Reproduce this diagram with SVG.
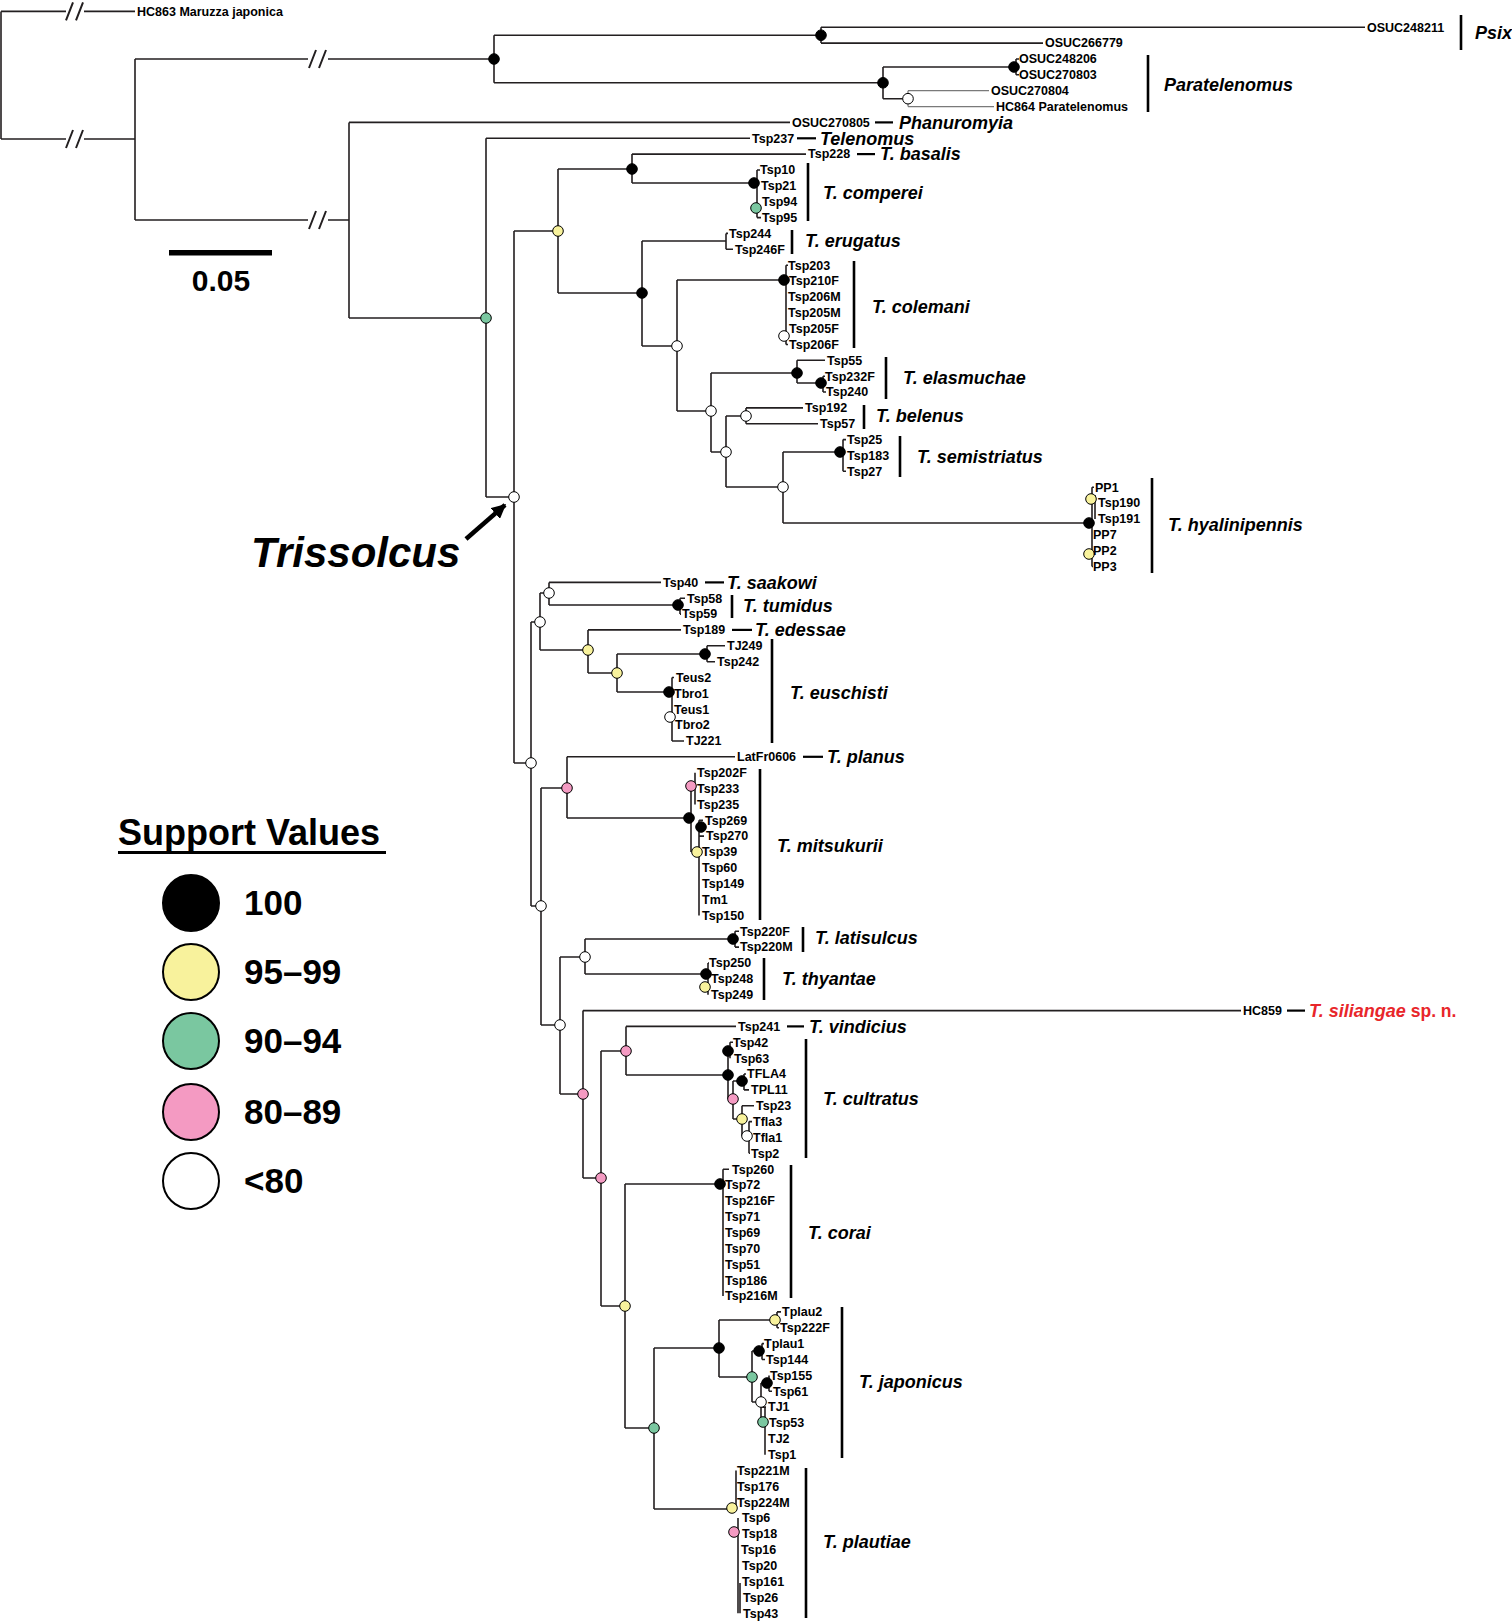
<svg xmlns="http://www.w3.org/2000/svg" width="1512" height="1622" viewBox="0 0 1512 1622">
<defs>
<style>
.e{fill:none;stroke:#231f20;stroke-width:1.6}
.g{fill:none;stroke:#7a7a7a;stroke-width:1.3}
.br{fill:none;stroke:#231f20;stroke-width:2}
.d{stroke:#000;stroke-width:2.2}
.bar{stroke:#000;stroke-width:2.6}
.t{font-family:"Liberation Sans",Arial,sans-serif;font-weight:bold;font-size:12.5px;fill:#000}
.sp{font-family:"Liberation Sans",Arial,sans-serif;font-weight:bold;font-style:italic;font-size:18px;fill:#000}
.k{fill:#000;stroke:#000;stroke-width:1}
.y{fill:#f8f29c;stroke:#000;stroke-width:1}
.gr{fill:#7ac7a0;stroke:#000;stroke-width:1}
.p{fill:#f49ac2;stroke:#000;stroke-width:1}
.w{fill:#fff;stroke:#000;stroke-width:1}
.lg{font-family:"Liberation Sans",Arial,sans-serif;font-weight:bold;font-size:35px;fill:#000}
</style>
<marker id="ah" viewBox="0 0 10 10" refX="9" refY="5" markerWidth="3.2" markerHeight="3.2" orient="auto"><path d="M0 0L10 5L0 10z" fill="#000"/></marker>
</defs>
<rect width="1512" height="1622" fill="#fff"/>

<g id="connectors">
<path class="e" d="M1 11.4V139M1 11.4H66M84 11.4H135M1 139H66M84 139H135"/>
<path class="e" d="M135 59V220M135 59H308M328 59H494M135 220H308M328 220H349"/>
<path class="br" d="M66 20.4L73 2.4M76 20.4L83 2.4M66 148L73 130M76 148L83 130M309 68L316 50M319 68L326 50M309 229L316 211M319 229L326 211"/>
<path class="e" d="M494 35.2V82.8M494 35.2H821M494 82.8H883"/>
<path class="e" d="M821 27.3V43.1M821 27.3H1365M821 43.1H1043"/>
<path class="e" d="M883 67V98.7M883 67H1014M883 98.7H908"/>
<path class="e" d="M1016 59V74.8M1016 59H1019M1016 74.8H1019"/>
<path class="g" d="M908 90.7V106.6M908 90.7H989M908 106.6H994"/>
<path class="e" d="M349 122.4V318M349 122.4H790M349 318H486"/>
<path class="e" d="M486 138.3V497M486 138.3H750M486 497H514"/>
<path class="e" d="M514 231V763M514 231H558M514 763H531"/>
<path class="e" d="M558 169V293M558 169H632M558 293H642"/>
<path class="e" d="M632 154.1V183M632 154.1H806M632 183H754"/>
<path class="e" d="M757 170V217.6M757 170H760M757 217.6H761"/>
<path class="e" d="M642 241V346M642 241H726M642 346H677"/>
<path class="e" d="M726 233.4V249.3M726 233.4H728M726 249.3H733"/>
<path class="e" d="M677 280V411M677 280H784M677 411H711"/>
<path class="e" d="M786 265.2V344.5M786 265.2H788M786 344.5H788"/>
<path class="e" d="M711 373V452M711 373H797M711 452H726"/>
<path class="e" d="M797 360.3V383M797 360.3H825M797 383H821"/>
<path class="e" d="M823 376.2V392M823 376.2H825M823 392H826"/>
<path class="e" d="M726 416V487M726 416H746M726 487H783"/>
<path class="e" d="M746 407.9V423.8M746 407.9H803M746 423.8H818"/>
<path class="e" d="M783 452V523M783 452H840M783 523H1089"/>
<path class="e" d="M843 439.6V471.3M843 439.6H846M843 471.3H846"/>
<path class="e" d="M1092 487.2V566.5M1092 487.2H1094M1092 566.5H1093M1095 495V519"/>
<path class="e" d="M531 622V906M531 622H540M531 906H541"/>
<path class="e" d="M540 593V650M540 593H549M540 650H588"/>
<path class="e" d="M549 582.4V605M549 582.4H661M549 605H678"/>
<path class="e" d="M680 598.2V614.1M680 598.2H685M680 614.1H681"/>
<path class="e" d="M588 629.9V673M588 629.9H681M588 673H617"/>
<path class="e" d="M617 654V692M617 654H705M617 692H669"/>
<path class="e" d="M707 645.8V661.7M707 645.8H725M707 661.7H715"/>
<path class="e" d="M672 677.5V741M672 677.5H674M672 741H684"/>
<path class="e" d="M541 788V1025M541 788H567M541 1025H560"/>
<path class="e" d="M567 756.8V818M567 756.8H735M567 818H689"/>
<path class="e" d="M695 772.7V804.4M691 786V852M699 820.3V915.4M699 820.3H703M699 836.1H704"/>
<path class="e" d="M560 957V1094M560 957H585M560 1094H583"/>
<path class="e" d="M585 939V974M585 939H733M585 974H706"/>
<path class="e" d="M735 931.3V947.1M735 931.3H739M735 947.1H739"/>
<path class="e" d="M708 963V994.7M708 963H709"/>
<path class="e" d="M583 1010.6V1178M583 1010.6H1241M583 1178H601"/>
<path class="e" d="M601 1051V1306M601 1051H626M601 1306H625"/>
<path class="e" d="M626 1026.4V1075M626 1026.4H736M626 1075H728"/>
<path class="e" d="M730 1042.3V1058.2M730 1042.3H733M728 1051V1099M728 1099H733"/>
<path class="e" d="M733 1081V1119M733 1081H742M733 1119H742"/>
<path class="e" d="M744 1074V1089.9M744 1074H746M744 1089.9H749"/>
<path class="e" d="M742 1105.7V1136M742 1105.7H754M742 1136H747"/>
<path class="e" d="M749 1121.6V1153.3M749 1121.6H752M749 1153.3H750"/>
<path class="e" d="M625 1184V1428M625 1184H720M625 1428H654"/>
<path class="e" d="M723 1169.2V1296.1M723 1169.2H729"/>
<path class="e" d="M654 1348V1509M654 1348H719M654 1509H732"/>
<path class="e" d="M719 1320V1377M719 1320H775M719 1377H752"/>
<path class="e" d="M777 1311.9V1327.8M777 1311.9H781M777 1327.8H779"/>
<path class="e" d="M752 1351V1402M752 1351H759M752 1402H761"/>
<path class="e" d="M762 1343.6V1359.5M762 1343.6H764M762 1359.5H765"/>
<path class="e" d="M761 1383V1422M761 1383H767M761 1422H763M761 1407.1H766"/>
<path class="e" d="M769 1375.4V1391.2M769 1391.2H772"/>
<path class="e" d="M765 1407V1454.7"/>
<path class="e" d="M736 1470.5V1510M738 1518V1613.3M740 1583V1613.3M734 1532H738"/>
</g>

<g id="outgroup-maruzza"><text class="t" x="137" y="15.7">HC863 Maruzza japonica</text></g>

<g id="clade-psix">
<circle class="k" cx="494" cy="59" r="5.3"/><circle class="k" cx="821" cy="35.2" r="5.3"/>
<text class="t" x="1367" y="31.6">OSUC248211</text><text class="t" x="1045" y="47.4">OSUC266779</text>
<line class="bar" x1="1461" y1="15" x2="1461" y2="50"/>
<text class="sp" x="1475" y="39">Psix</text>
</g>

<g id="clade-paratelenomus">
<circle class="k" cx="883" cy="82.8" r="5.3"/><circle class="k" cx="1014" cy="67" r="5.3"/><circle class="w" cx="908" cy="98.7" r="5.3"/>
<text class="t" x="1019" y="63.3">OSUC248206</text><text class="t" x="1019" y="79.1">OSUC270803</text>
<text class="t" x="991" y="95">OSUC270804</text><text class="t" x="996" y="110.9">HC864 Paratelenomus</text>
<line class="bar" x1="1148" y1="55" x2="1148" y2="112"/>
<text class="sp" x="1164" y="91">Paratelenomus</text>
</g>

<g id="clade-phanuromyia">
<text class="t" x="792" y="126.7">OSUC270805</text><line class="d" x1="875" y1="122.4" x2="893" y2="122.4"/>
<text class="sp" x="899" y="128.5">Phanuromyia</text>
</g>

<g id="clade-telenomus">
<circle class="gr" cx="486" cy="318" r="5.3"/>
<text class="t" x="752" y="142.6">Tsp237</text><line class="d" x1="797" y1="138.3" x2="816" y2="138.3"/>
<text class="sp" x="820" y="144.5">Telenomus</text>
</g>

<g id="node-trissolcus-root">
<circle class="w" cx="514" cy="497" r="5.3"/>
<circle class="y" cx="558" cy="231" r="5.3"/>
<circle class="k" cx="632" cy="169" r="5.3"/>
<circle class="k" cx="642" cy="293" r="5.3"/>
<circle class="w" cx="677" cy="346" r="5.3"/>
<circle class="w" cx="711" cy="411" r="5.3"/>
<circle class="w" cx="726" cy="452" r="5.3"/>
<circle class="w" cx="783" cy="487" r="5.3"/>
<circle class="w" cx="531" cy="763" r="5.3"/>
<circle class="w" cx="540" cy="622" r="5.3"/>
<circle class="y" cx="588" cy="650" r="5.3"/>
<circle class="y" cx="617" cy="673" r="5.3"/>
<circle class="w" cx="541" cy="906" r="5.3"/>
<circle class="p" cx="567" cy="788" r="5.3"/>
<circle class="w" cx="560" cy="1025" r="5.3"/>
<circle class="w" cx="585" cy="957" r="5.3"/>
<circle class="p" cx="583" cy="1094" r="5.3"/>
<circle class="p" cx="601" cy="1178" r="5.3"/>
<circle class="p" cx="626" cy="1051" r="5.3"/>
<circle class="y" cx="625" cy="1306" r="5.3"/>
<circle class="gr" cx="654" cy="1428" r="5.3"/>
</g>

<g id="clade-basalis">
<text class="t" x="808" y="158.4">Tsp228</text><line class="d" x1="857" y1="154.1" x2="875" y2="154.1"/>
<text class="sp" x="880" y="160">T. basalis</text>
</g>

<g id="clade-comperei">
<circle class="k" cx="754" cy="183" r="5.3"/><circle class="gr" cx="756" cy="208" r="5.3"/>
<text class="t" x="760" y="174.3">Tsp10</text><text class="t" x="761" y="190.2">Tsp21</text><text class="t" x="762" y="206">Tsp94</text><text class="t" x="762" y="221.9">Tsp95</text>
<line class="bar" x1="808" y1="163" x2="808" y2="221"/>
<text class="sp" x="823" y="199">T. comperei</text>
</g>

<g id="clade-erugatus">
<text class="t" x="729" y="237.7">Tsp244</text><text class="t" x="735" y="253.6">Tsp246F</text>
<line class="bar" x1="792" y1="230" x2="792" y2="254"/>
<text class="sp" x="805" y="247">T. erugatus</text>
</g>

<g id="clade-colemani">
<circle class="k" cx="784" cy="280" r="5.3"/><circle class="w" cx="784" cy="336" r="5.3"/>
<text class="t" x="788" y="269.5">Tsp203</text><text class="t" x="789" y="285.3">Tsp210F</text><text class="t" x="788" y="301.2">Tsp206M</text>
<text class="t" x="788" y="317">Tsp205M</text><text class="t" x="789" y="332.9">Tsp205F</text><text class="t" x="789" y="348.8">Tsp206F</text>
<line class="bar" x1="854" y1="261" x2="854" y2="348"/>
<text class="sp" x="872" y="313">T. colemani</text>
</g>

<g id="clade-elasmuchae">
<circle class="k" cx="797" cy="373" r="5.3"/><circle class="k" cx="821" cy="383" r="5.3"/>
<text class="t" x="827" y="364.6">Tsp55</text><text class="t" x="825" y="380.5">Tsp232F</text><text class="t" x="826" y="396.3">Tsp240</text>
<line class="bar" x1="886" y1="357" x2="886" y2="399"/>
<text class="sp" x="903" y="384">T. elasmuchae</text>
</g>

<g id="clade-belenus">
<circle class="w" cx="746" cy="416" r="5.3"/>
<text class="t" x="805" y="412.2">Tsp192</text><text class="t" x="820" y="428.1">Tsp57</text>
<line class="bar" x1="864" y1="405" x2="864" y2="429"/>
<text class="sp" x="876" y="422">T. belenus</text>
</g>

<g id="clade-semistriatus">
<circle class="k" cx="840" cy="452" r="5.3"/>
<text class="t" x="847" y="443.9">Tsp25</text><text class="t" x="847" y="459.8">Tsp183</text><text class="t" x="847" y="475.6">Tsp27</text>
<line class="bar" x1="900" y1="436" x2="900" y2="477"/>
<text class="sp" x="917" y="463">T. semistriatus</text>
</g>

<g id="clade-hyalinipennis">
<circle class="y" cx="1091" cy="499" r="5.3"/><circle class="k" cx="1089" cy="523" r="5.3"/><circle class="y" cx="1089" cy="554" r="5.3"/>
<text class="t" x="1095" y="491.5">PP1</text><text class="t" x="1098" y="507.4">Tsp190</text><text class="t" x="1098" y="523.2">Tsp191</text>
<text class="t" x="1093" y="539.1">PP7</text><text class="t" x="1093" y="554.9">PP2</text><text class="t" x="1093" y="570.8">PP3</text>
<line class="bar" x1="1152" y1="478" x2="1152" y2="573"/>
<text class="sp" x="1168" y="531">T. hyalinipennis</text>
</g>

<g id="clade-saakowi">
<circle class="w" cx="549" cy="593" r="5.3"/>
<text class="t" x="663" y="586.7">Tsp40</text><line class="d" x1="705" y1="582.4" x2="724" y2="582.4"/>
<text class="sp" x="727" y="588.5">T. saakowi</text>
</g>

<g id="clade-tumidus">
<circle class="k" cx="678" cy="605" r="5.3"/>
<text class="t" x="687" y="602.5">Tsp58</text><text class="t" x="682" y="618.4">Tsp59</text>
<line class="bar" x1="732" y1="595" x2="732" y2="618"/>
<text class="sp" x="743" y="612">T. tumidus</text>
</g>

<g id="clade-edessae">
<text class="t" x="683" y="634.2">Tsp189</text><line class="d" x1="732" y1="629.9" x2="752" y2="629.9"/>
<text class="sp" x="755" y="636">T. edessae</text>
</g>

<g id="clade-euschisti">
<circle class="k" cx="705" cy="654" r="5.3"/><circle class="k" cx="669" cy="692" r="5.3"/><circle class="w" cx="670" cy="717" r="5.3"/>
<text class="t" x="727" y="650.1">TJ249</text><text class="t" x="717" y="666">Tsp242</text>
<text class="t" x="676" y="681.8">Teus2</text><text class="t" x="674" y="697.7">Tbro1</text><text class="t" x="674" y="713.5">Teus1</text>
<text class="t" x="675" y="729.4">Tbro2</text><text class="t" x="686" y="745.3">TJ221</text>
<line class="bar" x1="772" y1="639" x2="772" y2="743"/>
<text class="sp" x="790" y="699">T. euschisti</text>
</g>

<g id="clade-planus">
<text class="t" x="737" y="761.1">LatFr0606</text><line class="d" x1="803" y1="756.8" x2="823" y2="756.8"/>
<text class="sp" x="827" y="763">T. planus</text>
</g>

<g id="clade-mitsukurii">
<circle class="p" cx="691" cy="786" r="5.3"/><circle class="k" cx="689" cy="818" r="5.3"/><circle class="k" cx="701" cy="827" r="5.3"/><circle class="y" cx="697" cy="852" r="5.3"/>
<text class="t" x="697" y="777">Tsp202F</text><text class="t" x="697" y="792.8">Tsp233</text><text class="t" x="697" y="808.7">Tsp235</text>
<text class="t" x="705" y="824.6">Tsp269</text><text class="t" x="706" y="840.4">Tsp270</text><text class="t" x="702" y="856.3">Tsp39</text>
<text class="t" x="702" y="872.1">Tsp60</text><text class="t" x="702" y="888">Tsp149</text><text class="t" x="702" y="903.9">Tm1</text><text class="t" x="702" y="919.7">Tsp150</text>
<line class="bar" x1="760" y1="769" x2="760" y2="920"/>
<text class="sp" x="777" y="852">T. mitsukurii</text>
</g>

<g id="clade-latisulcus">
<circle class="k" cx="733" cy="939" r="5.3"/>
<text class="t" x="740" y="935.6">Tsp220F</text><text class="t" x="740" y="951.4">Tsp220M</text>
<line class="bar" x1="803" y1="927" x2="803" y2="952"/>
<text class="sp" x="815" y="944">T. latisulcus</text>
</g>

<g id="clade-thyantae">
<circle class="k" cx="706" cy="974" r="5.3"/><circle class="y" cx="705" cy="987" r="5.3"/>
<text class="t" x="709" y="967.3">Tsp250</text><text class="t" x="711" y="983.2">Tsp248</text><text class="t" x="711" y="999">Tsp249</text>
<line class="bar" x1="764" y1="958" x2="764" y2="1000"/>
<text class="sp" x="782" y="985">T. thyantae</text>
</g>

<g id="clade-siliangae">
<text class="t" x="1243" y="1014.9">HC859</text><line class="d" x1="1287" y1="1010.6" x2="1305" y2="1010.6"/>
<text class="sp" x="1309" y="1017" style="fill:#e8262a">T. siliangae <tspan font-style="normal" font-size="17.5">sp. n.</tspan></text>
</g>

<g id="clade-vindicius">
<text class="t" x="738" y="1030.7">Tsp241</text><line class="d" x1="787" y1="1026.4" x2="804" y2="1026.4"/>
<text class="sp" x="809" y="1032.5">T. vindicius</text>
</g>

<g id="clade-cultratus">
<circle class="k" cx="728" cy="1051" r="5.3"/><circle class="k" cx="728" cy="1075" r="5.3"/><circle class="k" cx="742" cy="1081" r="5.3"/>
<circle class="p" cx="733" cy="1099" r="5.3"/><circle class="y" cx="742" cy="1119" r="5.3"/><circle class="w" cx="747" cy="1136" r="5.3"/>
<text class="t" x="733" y="1046.6">Tsp42</text><text class="t" x="734" y="1062.5">Tsp63</text><text class="t" x="747" y="1078.3">TFLA4</text>
<text class="t" x="751" y="1094.2">TPL11</text><text class="t" x="756" y="1110">Tsp23</text><text class="t" x="753" y="1125.9">Tfla3</text>
<text class="t" x="753" y="1141.8">Tfla1</text><text class="t" x="751" y="1157.6">Tsp2</text>
<line class="bar" x1="806" y1="1039" x2="806" y2="1158"/>
<text class="sp" x="823" y="1105">T. cultratus</text>
</g>

<g id="clade-corai">
<circle class="k" cx="720" cy="1184" r="5.3"/>
<text class="t" x="732" y="1173.5">Tsp260</text><text class="t" x="725" y="1189.3">Tsp72</text><text class="t" x="725" y="1205.2">Tsp216F</text>
<text class="t" x="725" y="1221.1">Tsp71</text><text class="t" x="725" y="1236.9">Tsp69</text><text class="t" x="725" y="1252.8">Tsp70</text>
<text class="t" x="725" y="1268.6">Tsp51</text><text class="t" x="725" y="1284.5">Tsp186</text><text class="t" x="725" y="1300.4">Tsp216M</text>
<line class="bar" x1="791" y1="1165" x2="791" y2="1298"/>
<text class="sp" x="808" y="1239">T. corai</text>
</g>

<g id="clade-japonicus">
<circle class="k" cx="719" cy="1348" r="5.3"/><circle class="y" cx="775" cy="1320" r="5.3"/><circle class="gr" cx="752" cy="1377" r="5.3"/>
<circle class="k" cx="759" cy="1351" r="5.3"/><circle class="w" cx="761" cy="1402" r="5.3"/><circle class="k" cx="767" cy="1383" r="5.3"/><circle class="gr" cx="763" cy="1422" r="5.3"/>
<text class="t" x="782" y="1316.2">Tplau2</text><text class="t" x="780" y="1332.1">Tsp222F</text><text class="t" x="764" y="1347.9">Tplau1</text>
<text class="t" x="766" y="1363.8">Tsp144</text><text class="t" x="770" y="1379.7">Tsp155</text><text class="t" x="773" y="1395.5">Tsp61</text>
<text class="t" x="768" y="1411.4">TJ1</text><text class="t" x="769" y="1427.2">Tsp53</text><text class="t" x="768" y="1443.1">TJ2</text><text class="t" x="768" y="1459">Tsp1</text>
<line class="bar" x1="842" y1="1307" x2="842" y2="1458"/>
<text class="sp" x="859" y="1388">T. japonicus</text>
</g>

<g id="clade-plautiae">
<circle class="y" cx="732" cy="1508" r="5.3"/><circle class="p" cx="734" cy="1532" r="5.3"/>
<text class="t" x="737" y="1474.8">Tsp221M</text><text class="t" x="737" y="1490.7">Tsp176</text><text class="t" x="737" y="1506.5">Tsp224M</text>
<text class="t" x="742" y="1522.4">Tsp6</text><text class="t" x="742" y="1538.3">Tsp18</text><text class="t" x="741" y="1554.1">Tsp16</text>
<text class="t" x="742" y="1570">Tsp20</text><text class="t" x="742" y="1585.8">Tsp161</text><text class="t" x="743" y="1601.7">Tsp26</text><text class="t" x="743" y="1617.6">Tsp43</text>
<line class="bar" x1="806" y1="1468" x2="806" y2="1618"/>
<text class="sp" x="823" y="1548">T. plautiae</text>
</g>

<g id="label-trissolcus">
<text x="251" y="567" style="font-family:'Liberation Sans',Arial,sans-serif;font-weight:bold;font-style:italic;font-size:42px">Trissolcus</text>
<line x1="466" y1="539" x2="505" y2="505" stroke="#000" stroke-width="4.5" marker-end="url(#ah)"/>
</g>

<g id="scale-bar">
<rect x="169" y="250" width="103" height="5.5" fill="#000"/>
<text x="221" y="291" text-anchor="middle" style="font-family:'Liberation Sans',Arial,sans-serif;font-weight:bold;font-size:30px">0.05</text>
</g>

<g id="legend">
<text x="118" y="845" style="font-family:'Liberation Sans',Arial,sans-serif;font-weight:bold;font-size:36px">Support Values</text>
<rect x="118" y="851" width="268" height="3" fill="#000"/>
<circle cx="191" cy="903" r="28" fill="#000" stroke="#000" stroke-width="2"/>
<circle cx="191" cy="972" r="28" fill="#f8f29c" stroke="#000" stroke-width="2"/>
<circle cx="191" cy="1041" r="28" fill="#7ac7a0" stroke="#000" stroke-width="2"/>
<circle cx="191" cy="1112" r="28" fill="#f49ac2" stroke="#000" stroke-width="2"/>
<circle cx="191" cy="1181" r="28" fill="#fff" stroke="#000" stroke-width="2"/>
<text class="lg" x="244" y="915">100</text>
<text class="lg" x="244" y="984">95–99</text>
<text class="lg" x="244" y="1053">90–94</text>
<text class="lg" x="244" y="1124">80–89</text>
<text class="lg" x="244" y="1193">&lt;80</text>
</g>
</svg>
